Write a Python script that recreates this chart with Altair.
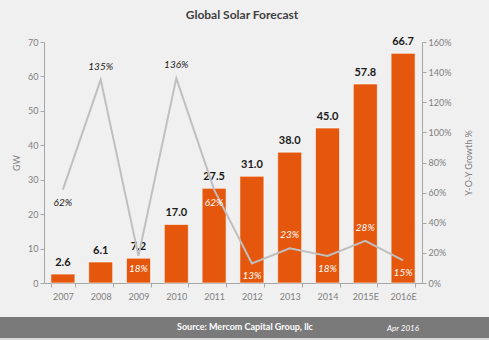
import altair as alt
import pandas as pd

years = ["2007", "2008", "2009", "2010", "2011", "2012", "2013", "2014", "2015E", "2016E"]
capacity_gw = [2.6, 6.1, 7.2, 17.0, 27.5, 31.0, 38.0, 45.0, 57.8, 66.7]
yoy_growth = [0.62, 1.35, 0.18, 1.36, 0.62, 0.13, 0.23, 0.18, 0.28, 0.15]

title_text = "Global Solar Forecast"
source_text = "Source: Mercom Capital Group, llc"
date_text = "Apr 2016"

# derive label placement from the data: local maxima labelled above, others below
side = []
for i, g in enumerate(yoy_growth):
    prev_g = yoy_growth[i - 1] if i > 0 else -1
    next_g = yoy_growth[i + 1] if i < len(yoy_growth) - 1 else -1
    side.append("above" if (g > prev_g and g > next_g) else "below")
inside = [
    "white" if (g * 70 / 1.6 < c + 2) else "dark"
    for g, c in zip(yoy_growth, capacity_gw)
]

df = pd.DataFrame({
    "year": years,
    "gw": capacity_gw,
    "growth": yoy_growth,
    "side": side,
    "lc": inside,
})

FONT = "Lato"
BAR = "#e4570c"
W, H = 378, 241

x_enc = alt.X(
    "year:N", sort=years, title=None,
    scale=alt.Scale(paddingInner=0.365, paddingOuter=0.1825),
    axis=alt.Axis(labelAngle=0, labelColor="#7f7f7f", labelFontSize=9, labelFont=FONT,
                  domainColor="#a6a6a6", tickColor="#a6a6a6", tickSize=4,
                  tickBand="extent", labelPadding=5),
)

base = alt.Chart(df)

y_gw = alt.Y("gw:Q", title="GW",
             scale=alt.Scale(domain=[0, 70], nice=False),
             axis=alt.Axis(values=list(range(0, 71, 10)), grid=False,
                           labelColor="#7f7f7f", labelFontSize=9, labelFont=FONT,
                           domainColor="#a6a6a6", tickColor="#a6a6a6", tickSize=4,
                           titleColor="#7f7f7f", titleFontSize=9, titleFont=FONT,
                           titleFontWeight="normal", titlePadding=6))

bars = base.mark_bar(color=BAR, stroke="white", strokeWidth=0.6).encode(x=x_enc, y=y_gw)
bar_labels = base.mark_text(dy=-6, baseline="bottom", fontWeight="bold", fontSize=11,
                            font=FONT, color="#1a1a1a").encode(
    x=x_enc,
    y=y_gw,
    text=alt.Text("gw:Q", format=".1f"),
)
gw_layer = alt.layer(bars, bar_labels)

y_gr = alt.Y("growth:Q", title="Y-O-Y Growth %",
             scale=alt.Scale(domain=[0, 1.6], nice=False),
             axis=alt.Axis(orient="right", format=".0%",
                           values=[0, 0.2, 0.4, 0.6, 0.8, 1.0, 1.2, 1.4, 1.6], grid=False,
                           labelColor="#7f7f7f", labelFontSize=9, labelFont=FONT,
                           domainColor="#a6a6a6", tickColor="#a6a6a6", tickSize=4,
                           titleColor="#7f7f7f", titleFontSize=9, titleFont=FONT,
                           titleFontWeight="normal", titleAngle=270,
                           titleBaseline="middle", titleX=46))

line = base.mark_line(color="#bfbfbf", strokeWidth=2).encode(x=x_enc, y=y_gr)

color_enc = alt.Color("lc:N", scale=alt.Scale(domain=["white", "dark"],
                                              range=["#ffffff", "#1a1a1a"]), legend=None)
gl_above = base.transform_filter(alt.datum.side == "above").mark_text(
    dy=-8, baseline="bottom", fontStyle="italic", fontSize=10, font=FONT).encode(
    x=x_enc, y=y_gr,
    text=alt.Text("growth:Q", format=".0%"), color=color_enc)
gl_below = base.transform_filter(alt.datum.side == "below").mark_text(
    dy=8, baseline="top", fontStyle="italic", fontSize=10, font=FONT).encode(
    x=x_enc, y=y_gr,
    text=alt.Text("growth:Q", format=".0%"), color=color_enc)
gr_layer = alt.layer(line, gl_above, gl_below)

deco = alt.Chart(pd.DataFrame({"t": [title_text], "s": [source_text], "d": [date_text]}))
title_mark = deco.mark_text(fontSize=12, fontWeight="bold", font=FONT, color="#404040",
                            baseline="middle", align="center").encode(
    x=alt.value(198), y=alt.value(-27), text="t:N")
footer_bg = deco.mark_rect(color="#7a7a7a").encode(
    x=alt.value(-44), x2=alt.value(445), y=alt.value(275), y2=alt.value(296))
footer_bottom = deco.mark_rect(color="#d9d9d9").encode(
    x=alt.value(-44), x2=alt.value(445), y=alt.value(296), y2=alt.value(298))
footer_txt = deco.mark_text(fontSize=9, fontWeight="bold", font=FONT, color="white",
                            baseline="middle", align="center").encode(
    x=alt.value(201), y=alt.value(285), text="s:N")
date_txt = deco.mark_text(fontSize=8, fontStyle="italic", font=FONT, color="white",
                          baseline="middle", align="center").encode(
    x=alt.value(359), y=alt.value(287), text="d:N")
deco_layer = alt.layer(title_mark, footer_bg, footer_bottom, footer_txt, date_txt)

chart = alt.layer(gw_layer, gr_layer, deco_layer).resolve_scale(
    y="independent", color="independent"
).properties(
    width=W, height=H,
    autosize=alt.AutoSizeParams(type="none"),
    padding={"left": 44, "top": 42, "right": 67, "bottom": 57},
    background="#f0f0f0",
).configure_view(stroke=None)

chart.save("out.html", embed_options={"renderer": "svg", "actions": False})
